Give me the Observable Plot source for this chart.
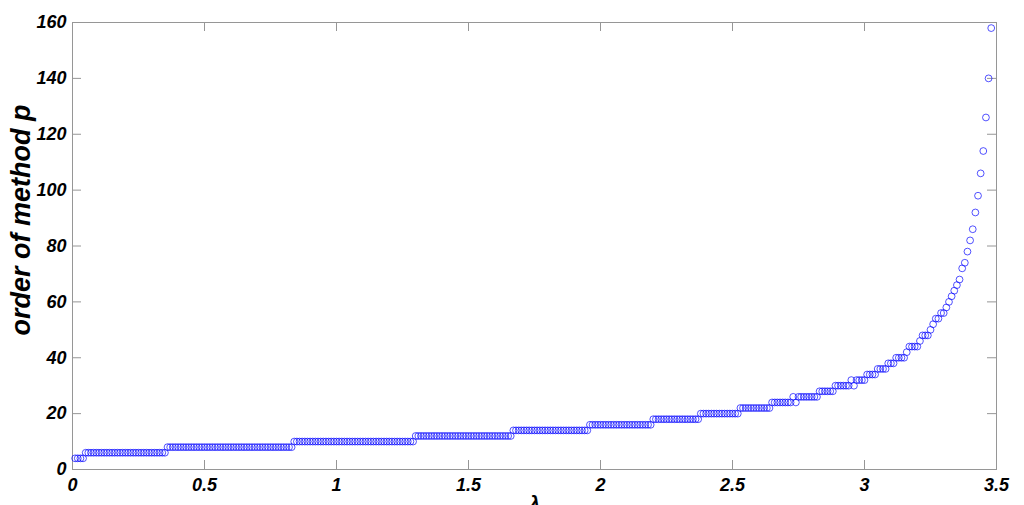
<!DOCTYPE html>
<html>
<head>
<meta charset="utf-8">
<script src="https://cdn.jsdelivr.net/npm/d3@7"></script>
<script src="https://cdn.jsdelivr.net/npm/@observablehq/plot@0.6"></script>
<style>
  html, body { margin: 0; padding: 0; background: #fff; }
  #chart svg { display: block; }
</style>
</head>
<body>
<div id="chart"></div>
<script>
// ---- data ----
const lambda = [
  0.01,0.02,0.03,0.04,0.05,0.06,0.07,0.08,0.09,0.10,
  0.11,0.12,0.13,0.14,0.15,0.16,0.17,0.18,0.19,0.20,
  0.21,0.22,0.23,0.24,0.25,0.26,0.27,0.28,0.29,0.30,
  0.31,0.32,0.33,0.34,0.35,0.36,0.37,0.38,0.39,0.40,
  0.41,0.42,0.43,0.44,0.45,0.46,0.47,0.48,0.49,0.50,
  0.51,0.52,0.53,0.54,0.55,0.56,0.57,0.58,0.59,0.60,
  0.61,0.62,0.63,0.64,0.65,0.66,0.67,0.68,0.69,0.70,
  0.71,0.72,0.73,0.74,0.75,0.76,0.77,0.78,0.79,0.80,
  0.81,0.82,0.83,0.84,0.85,0.86,0.87,0.88,0.89,0.90,
  0.91,0.92,0.93,0.94,0.95,0.96,0.97,0.98,0.99,1.00,
  1.01,1.02,1.03,1.04,1.05,1.06,1.07,1.08,1.09,1.10,
  1.11,1.12,1.13,1.14,1.15,1.16,1.17,1.18,1.19,1.20,
  1.21,1.22,1.23,1.24,1.25,1.26,1.27,1.28,1.29,1.30,
  1.31,1.32,1.33,1.34,1.35,1.36,1.37,1.38,1.39,1.40,
  1.41,1.42,1.43,1.44,1.45,1.46,1.47,1.48,1.49,1.50,
  1.51,1.52,1.53,1.54,1.55,1.56,1.57,1.58,1.59,1.60,
  1.61,1.62,1.63,1.64,1.65,1.66,1.67,1.68,1.69,1.70,
  1.71,1.72,1.73,1.74,1.75,1.76,1.77,1.78,1.79,1.80,
  1.81,1.82,1.83,1.84,1.85,1.86,1.87,1.88,1.89,1.90,
  1.91,1.92,1.93,1.94,1.95,1.96,1.97,1.98,1.99,2.00,
  2.01,2.02,2.03,2.04,2.05,2.06,2.07,2.08,2.09,2.10,
  2.11,2.12,2.13,2.14,2.15,2.16,2.17,2.18,2.19,2.20,
  2.21,2.22,2.23,2.24,2.25,2.26,2.27,2.28,2.29,2.30,
  2.31,2.32,2.33,2.34,2.35,2.36,2.37,2.38,2.39,2.40,
  2.41,2.42,2.43,2.44,2.45,2.46,2.47,2.48,2.49,2.50,
  2.51,2.52,2.53,2.54,2.55,2.56,2.57,2.58,2.59,2.60,
  2.61,2.62,2.63,2.64,2.65,2.66,2.67,2.68,2.69,2.70,
  2.71,2.72,2.73,2.74,2.75,2.76,2.77,2.78,2.79,2.80,
  2.81,2.82,2.83,2.84,2.85,2.86,2.87,2.88,2.89,2.90,
  2.91,2.92,2.93,2.94,2.95,2.96,2.97,2.98,2.99,3.00,
  3.01,3.02,3.03,3.04,3.05,3.06,3.07,3.08,3.09,3.10,
  3.11,3.12,3.13,3.14,3.15,3.16,3.17,3.18,3.19,3.20,
  3.21,3.22,3.23,3.24,3.25,3.26,3.27,3.28,3.29,3.30,
  3.31,3.32,3.33,3.34,3.35,3.36,3.37,3.38,3.39,3.40,
  3.41,3.42,3.43,3.44,3.45,3.46,3.47,3.48
];

const order = [
  4,4,4,4,
  6,6,6,6,6,6,6,6,6,6, 6,6,6,6,6,6,6,6,6,6, 6,6,6,6,6,6,6,6,6,6, 6,
  8,8,8,8,8,8,8,8,8,8, 8,8,8,8,8,8,8,8,8,8, 8,8,8,8,8,8,8,8,8,8, 8,8,8,8,8,8,8,8,8,8, 8,8,8,8,8,8,8,8,
  10,10,10,10,10,10,10,10,10,10, 10,10,10,10,10,10,10,10,10,10, 10,10,10,10,10,10,10,10,10,10, 10,10,10,10,10,10,10,10,10,10, 10,10,10,10,10,10,
  12,12,12,12,12,12,12,12,12,12, 12,12,12,12,12,12,12,12,12,12, 12,12,12,12,12,12,12,12,12,12, 12,12,12,12,12,12,12,
  14,14,14,14,14,14,14,14,14,14, 14,14,14,14,14,14,14,14,14,14, 14,14,14,14,14,14,14,14,14,
  16,16,16,16,16,16,16,16,16,16, 16,16,16,16,16,16,16,16,16,16, 16,16,16,16,
  18,18,18,18,18,18,18,18,18,18, 18,18,18,18,18,18,18,18,
  20,20,20,20,20,20,20,20,20,20, 20,20,20,20,20,
  22,22,22,22,22,22,22,22,22,22, 22,22,
  24,24,24,24,24,24,24,24, 26, 24,
  26,26,26,26,26,26,26,26,
  28,28,28,28,28,28,
  30,30,30,30,30,30, 32, 30,
  32,32,32,32,
  34,34,34,34,
  36,36,36,36,
  38,38,38,
  40,40,40,40,
  42,
  44,44,44,44,
  46,
  48,48,48,
  50, 52, 54,54, 56,56,
  58, 60, 62, 64, 66, 68, 72, 74, 78, 82,
  86, 92, 98, 106, 114, 126, 140, 158
];

const xTicks = [0, 0.5, 1, 1.5, 2, 2.5, 3, 3.5];
const xTickLabels = ["0", "0.5", "1", "1.5", "2", "2.5", "3", "3.5"];
const yTicks = [0, 20, 40, 60, 80, 100, 120, 140, 160];
const yTickLabels = ["0", "20", "40", "60", "80", "100", "120", "140", "160"];
const xLabel = "λ";
const yLabel = "order of method p";

if (lambda.length !== order.length) throw new Error("length mismatch " + lambda.length + " vs " + order.length);

const data = lambda.map((l, i) => ({lambda: l, order: order[i]}));

// ---- layout ----
const W = 1024, H = 505;
const mL = 72, mR = 28, mT = 22, mB = 36;
const ph = H - mT - mB;
const pw = W - mL - mR;
const tickLen = 9;
const axisColor = "#969696";
const font = "'Liberation Sans', Arial, Helvetica, sans-serif";
const xLab = new Map(xTicks.map((t, i) => [t, xTickLabels[i]]));
const yLab = new Map(yTicks.map((t, i) => [t, yTickLabels[i]]));

const chart = Plot.plot({
  width: W,
  height: H,
  marginLeft: mL,
  marginRight: mR,
  marginTop: mT,
  marginBottom: mB,
  style: {fontFamily: font, background: "#ffffff", color: "#000"},
  x: {domain: [0, 3.5]},
  y: {domain: [0, 160]},
  marks: [
    Plot.frame({stroke: axisColor, strokeWidth: 1}),
    Plot.tickX(xTicks, {x: d => d, stroke: axisColor, insetTop: ph - tickLen}),
    Plot.tickX(xTicks, {x: d => d, stroke: axisColor, insetBottom: ph - tickLen}),
    Plot.tickY(yTicks, {y: d => d, stroke: axisColor, insetRight: pw - tickLen}),
    Plot.tickY(yTicks, {y: d => d, stroke: axisColor, insetLeft: pw - tickLen}),
    Plot.axisX({ticks: xTicks, tickFormat: d => xLab.get(d), tickSize: 0, tickPadding: 9,
      fontSize: 18, fontWeight: "bold", fontStyle: "italic", fill: "#000", label: null}),
    Plot.axisY({ticks: yTicks, tickFormat: d => yLab.get(d), tickSize: 0, tickPadding: 6,
      fontSize: 18, fontWeight: "bold", fontStyle: "italic", fill: "#000", label: null}),
    Plot.dot(data, {x: "lambda", y: "order", r: 3.4, stroke: "#0000ff", strokeWidth: 0.8, strokeOpacity: 0.85, fill: "none"}),
    Plot.text([yLabel], {frameAnchor: "left", text: d => d, rotate: -90, textAnchor: "middle",
      dx: -51, dy: -26, fontSize: 27, fontWeight: "bold", fontStyle: "italic", fill: "#000"}),
    Plot.text([xLabel], {frameAnchor: "bottom", text: d => d, dy: 26, lineAnchor: "top",
      fontSize: 20, fontWeight: "bold", fontStyle: "italic", fill: "#000"})
  ]
});

document.getElementById("chart").appendChild(chart);
</script>
</body>
</html>
